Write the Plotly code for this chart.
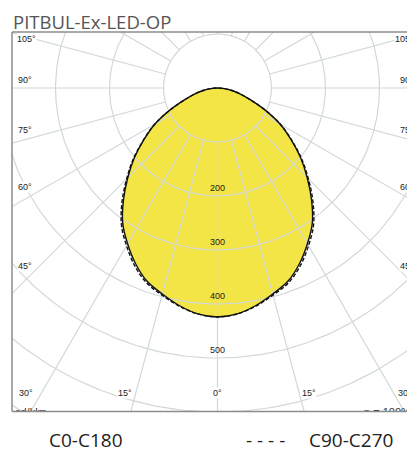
import numpy as np
import plotly.graph_objects as go

# ---------------- data ----------------
title_text = "PITBUL-Ex-LED-OP"
gamma = [0, 5, 10, 15, 20, 25, 30, 35, 40, 45, 50, 55, 60, 65, 70, 75, 80, 85, 90,
         95, 100, 105, 110, 115, 120, 125, 130, 135, 140, 145, 150, 155, 160, 165, 170, 175, 180]
c0_c180 = [424, 420, 409, 395, 381, 359, 333, 306, 271, 235, 201, 166, 134, 98, 66, 45, 27, 13, 0,
           0, 0, 0, 0, 0, 0, 0, 0, 0, 0, 0, 0, 0, 0, 0, 0, 0, 0]
c90_c270 = [424, 420, 410, 397, 384, 363, 337, 310, 275, 238, 203, 167, 135, 98, 66, 45, 27, 13, 0,
            0, 0, 0, 0, 0, 0, 0, 0, 0, 0, 0, 0, 0, 0, 0, 0, 0, 0]
circle_values = [100, 200, 300, 400, 500, 600, 700]
scale_labels = [200, 300, 400, 500]
radial_angles = list(range(0, 360, 15))
side_labels = ["105°", "90°", "75°", "60°", "45°"]
bottom_labels = ["30°", "15°", "0°", "15°", "30°"]
legend_names = ["C0-C180", "C90-C270"]
unit_text = "cd/klm"
eta_text = "η = 100%"

# ---------------- geometry / style ----------------
OFF = 8                                  # page body margin
W, H = 415 - OFF, 452 - OFF
CX, CY, S = 217.5, 88.0, 0.54            # centre (page px) and px per cd/klm
FL, FT, FB = 12.0, 32.0, 411.5           # frame left/top/bottom (page px)
GRID = "#d2d8d8"
FILL = "#F3E545"


def px_x(p):
    return (p - OFF) / W


def px_y(p):
    return 1 - (p - OFF) / H


def outline(vals):
    g = np.radians(np.array(gamma, dtype=float))
    I = np.array(vals, dtype=float)
    m = I > 0
    xr = I[m] * np.sin(g[m])
    yr = -I[m] * np.cos(g[m])
    x = [0.0] + list(xr[::-1]) + list(-xr[1:]) + [0.0]
    y = [0.0] + list(yr[::-1]) + list(yr[1:]) + [0.0]
    return x, y


fig = go.Figure()

# yellow fill
fx, fy = outline(c0_c180)
fig.add_trace(go.Scatter(x=fx, y=fy, mode="lines", fill="toself", fillcolor=FILL,
                         line=dict(width=0, shape="spline"), hoverinfo="skip", showlegend=False))

# grid circles
t = np.radians(np.arange(0, 361, 1.0))
gx, gy = [], []
for r in circle_values:
    gx += list(r * np.sin(t)) + [None]
    gy += list(-r * np.cos(t)) + [None]
# radials (from the 100 circle outward)
for a in radial_angles:
    ar = np.radians(a)
    gx += [100 * np.sin(ar), 1200 * np.sin(ar), None]
    gy += [-100 * np.cos(ar), -1200 * np.cos(ar), None]
fig.add_trace(go.Scatter(x=gx, y=gy, mode="lines", line=dict(color=GRID, width=1.2),
                         hoverinfo="skip", showlegend=False))

# outlines
sx, sy = outline(c0_c180)
fig.add_trace(go.Scatter(x=sx, y=sy, mode="lines", name=legend_names[0],
                         line=dict(color="#111111", width=1.4, shape="spline"), showlegend=False))
dx_, dy_ = outline(c90_c270)
fig.add_trace(go.Scatter(x=dx_, y=dy_, mode="lines", name=legend_names[1],
                         line=dict(color="#111111", width=1.4, dash="4px,2px", shape="spline"),
                         showlegend=False))

# clipped texts at bottom of frame
ybot = (CY - 407.5) / S
fig.add_trace(go.Scatter(x=[(15 - CX) / S], y=[ybot], mode="text", text=[unit_text],
                         textposition="bottom right", cliponaxis=True,
                         textfont=dict(family="Liberation Sans", size=11, color="#333333"),
                         hoverinfo="skip", showlegend=False))
fig.add_trace(go.Scatter(x=[(364 - CX) / S], y=[ybot], mode="text", text=[eta_text],
                         textposition="bottom right", cliponaxis=True,
                         textfont=dict(family="Liberation Sans", size=11, color="#333333"),
                         hoverinfo="skip", showlegend=False))

ann = []
lab_font = dict(family="Liberation Sans", size=9, color="#222222")
# side labels
side_y = [39, 80, 130, 187, 266]
for lbl, yy in zip(side_labels, side_y):
    lx = 26 if lbl == "105°" else 24.5
    rx = 404 if lbl == "105°" else 406.5
    for xx in (lx, rx):
        ann.append(dict(x=px_x(xx), y=px_y(yy), xref="paper", yref="paper", text=lbl, showarrow=False,
                        xanchor="center", yanchor="middle", font=lab_font, borderpad=0,
                        bgcolor="white"))
# bottom labels
bottom_x = [26, 124.5, 217.5, 308.5, 405]
for lbl, xx in zip(bottom_labels, bottom_x):
    ann.append(dict(x=px_x(xx), y=px_y(393), xref="paper", yref="paper", text=lbl, showarrow=False,
                    xanchor="center", yanchor="middle", font=lab_font, bgcolor="white", borderpad=0))
# scale labels
for v in scale_labels:
    ann.append(dict(x=0, y=-v, xref="x", yref="y", text=str(v), showarrow=False,
                    xanchor="center", yanchor="middle", yshift=8, font=lab_font))
# title
ann.append(dict(x=px_x(12), y=1, xref="paper", yref="paper", text=title_text, showarrow=False,
                xanchor="left", yanchor="top", borderpad=0,
                font=dict(family="Open Sans", size=18.5, color="#555555")))
# legend
leg_font = dict(family="Open Sans", size=19, color="#222222")
ann.append(dict(x=px_x(47), y=px_y(439.5), xref="paper", yref="paper", text=legend_names[0],
                showarrow=False, xanchor="left", yanchor="middle", font=leg_font))
ann.append(dict(x=px_x(244), y=px_y(439.5), xref="paper", yref="paper", text="- - - -",
                showarrow=False, xanchor="left", yanchor="middle", font=leg_font))
ann.append(dict(x=px_x(307), y=px_y(439.5), xref="paper", yref="paper", text=legend_names[1],
                showarrow=False, xanchor="left", yanchor="middle", font=leg_font))

frame = dict(color="#8c8c8c", width=1.5)
shapes = [
    dict(type="line", xref="paper", yref="paper", x0=px_x(FL), x1=px_x(FL), y0=px_y(FT), y1=px_y(FB), line=frame),
    dict(type="line", xref="paper", yref="paper", x0=px_x(FL), x1=1.02, y0=px_y(FT), y1=px_y(FT), line=frame),
    dict(type="line", xref="paper", yref="paper", x0=px_x(FL), x1=1.02, y0=px_y(FB), y1=px_y(FB), line=frame),
]

fig.update_layout(
    width=W, height=H, autosize=False,
    margin=dict(l=0, r=0, t=0, b=0),
    paper_bgcolor="white", plot_bgcolor="white",
    xaxis=dict(domain=[px_x(FL), 1], range=[(FL - CX) / S, (415 - CX) / S], visible=False, fixedrange=True),
    yaxis=dict(domain=[px_y(FB), px_y(FT)], range=[(CY - FB) / S, (CY - FT) / S], visible=False,
               fixedrange=True),
    annotations=ann, shapes=shapes, showlegend=False,
)

fig.write_html("out.html")
